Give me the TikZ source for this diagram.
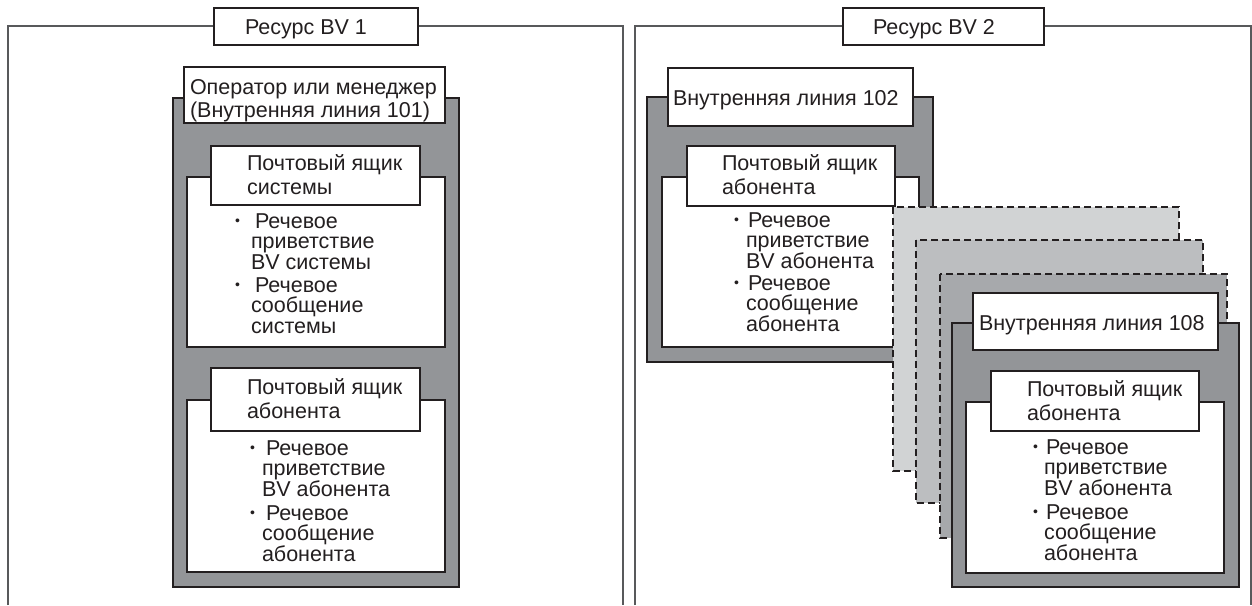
\documentclass[tikz,border=0pt]{standalone}
\usepackage{fontspec}
\setmainfont{Liberation Sans}
\definecolor{boxgray}{HTML}{939598}
\definecolor{dashA}{HTML}{D1D3D4}
\definecolor{dashB}{HTML}{BCBEC0}
\definecolor{dashC}{HTML}{A7A9AC}
\definecolor{ink}{HTML}{231F20}
\definecolor{frameline}{HTML}{58595B}
\tikzset{
 frameln/.style={draw=frameline, line width=1.8pt},
 graybox/.style={fill=boxgray, draw=ink, line width=1.4pt},
 whitebox/.style={fill=white, draw=ink, line width=1.4pt},
 dashbox/.style={draw=ink, line width=1.3pt, dash pattern=on 7pt off 4pt},
 txt/.style={anchor=base west, inner sep=0pt, outer sep=0pt, align=left, text=ink, font=\fontsize{21.5}{20.7}\selectfont},
 hdr/.style={txt, font=\fontsize{21.5}{24.5}\selectfont},
 ttl/.style={txt, font=\fontsize{21.5}{23.5}\selectfont},
 bul/.style={anchor=base west, inner sep=0pt, outer sep=0pt, text=ink, font=\fontsize{14}{14}\selectfont},
}
\newcommand\bdot{\raisebox{2.2pt}{•}}
\begin{document}
\begin{tikzpicture}[x=1pt,y=-1pt]
\useasboundingbox (0,0) rectangle (1252,605);
% frames (multi-line nodes are anchored at the baseline of their last line)
\path[frameln] (8,605) -- (8,26) -- (623,26) -- (623,605);
\path[frameln] (635,605) -- (635,26) -- (1251,26) -- (1251,605);
\path[whitebox] (214,8) rectangle (418,45);
\node[txt] (r1) at (245,34) {Ресурс BV 1};
\path[whitebox] (843,8) rectangle (1044,45);
\node[txt] (r2) at (873,34) {Ресурс BV 2};

% left panel
\path[graybox] (173,98) rectangle (459,587);
\path[whitebox] (184,67) rectangle (445,123);
\node[ttl] (op) at (190,117.5) {Оператор или менеджер\\(Внутренняя линия 101)};
\path[whitebox] (187,177) rectangle (445,347);
\path[whitebox] (211,146) rectangle (420,205);
\node[hdr] (h1) at (247,194.5) {Почтовый ящик\\системы};
\node[bul] (b1a) at (235,228) {\bdot};
\node[txt] (t1a) at (251,269.4) {\hspace*{4pt}Речевое\\приветствие\\BV системы};
\node[bul] (b1b) at (235,292) {\bdot};
\node[txt] (t1b) at (251,333.4) {\hspace*{4pt}Речевое\\сообщение\\системы};
\path[whitebox] (187,400) rectangle (445,572);
\path[whitebox] (211,368) rectangle (420,431);
\node[hdr] (h2) at (247,418.5) {Почтовый ящик\\абонента};
\node[bul] (b2a) at (250,455) {\bdot};
\node[txt] (t2a) at (262,496.4) {\hspace*{4pt}Речевое\\приветствие\\BV абонента};
\node[bul] (b2b) at (250,520) {\bdot};
\node[txt] (t2b) at (262,561.4) {\hspace*{4pt}Речевое\\сообщение\\абонента};

% right panel, extension 102
\path[graybox] (647,97) rectangle (933,362);
\path[whitebox] (668,68) rectangle (913,126);
\node[txt] (e102) at (673,105) {Внутренняя линия 102};
\path[whitebox] (662,177) rectangle (919,347);
\path[whitebox] (687,146) rectangle (895,206);
\node[hdr] (h3) at (722,194.5) {Почтовый ящик\\абонента};
\node[bul] (b3a) at (734,227) {\bdot};
\node[txt] (t3a) at (746,268.4) {\hspace*{2pt}Речевое\\приветствие\\BV абонента};
\node[bul] (b3b) at (734,290) {\bdot};
\node[txt] (t3b) at (746,331.4) {\hspace*{2pt}Речевое\\сообщение\\абонента};

% stacked dashed boxes
\path[dashbox, fill=dashA] (893,207) rectangle (1179,471);
\path[dashbox, fill=dashB] (916,240) rectangle (1203,503);
\path[dashbox, fill=dashC] (940,274) rectangle (1227,538);

% extension 108
\path[graybox] (952,323) rectangle (1239,587);
\path[whitebox] (973,293) rectangle (1218,350);
\node[txt] (e108) at (979,330) {Внутренняя линия 108};
\path[whitebox] (966,402) rectangle (1224,573);
\path[whitebox] (991,371) rectangle (1199,431);
\node[hdr] (h4) at (1027,420.5) {Почтовый ящик\\абонента};
\node[bul] (b4a) at (1033,454) {\bdot};
\node[txt] (t4a) at (1044,495.4) {\hspace*{2pt}Речевое\\приветствие\\BV абонента};
\node[bul] (b4b) at (1033,519) {\bdot};
\node[txt] (t4b) at (1044,560.4) {\hspace*{2pt}Речевое\\сообщение\\абонента};
\end{tikzpicture}
\end{document}
